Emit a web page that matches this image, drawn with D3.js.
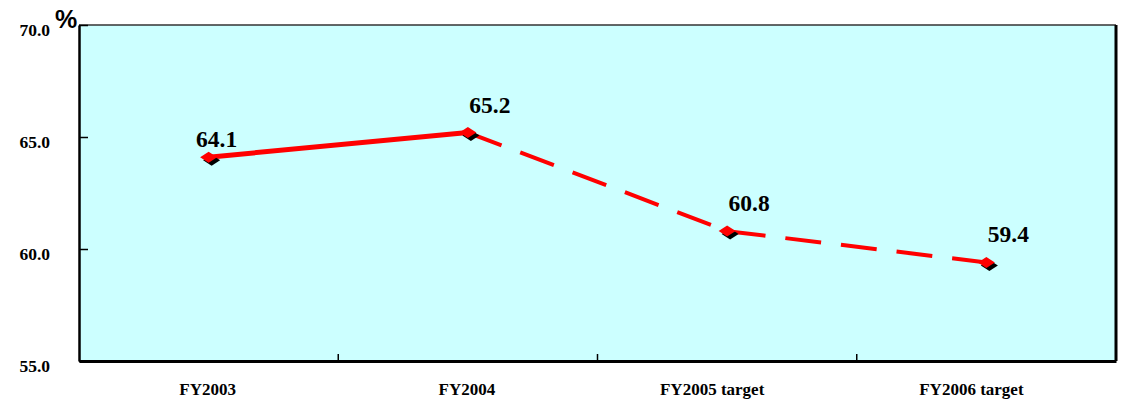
<!DOCTYPE html>
<html><head><meta charset="utf-8">
<script src="https://cdn.jsdelivr.net/npm/d3@7"></script>
<style>html,body{margin:0;padding:0;background:#fff;}svg{display:block;}</style>
</head><body>
<svg id="chart" width="1124" height="406"></svg>
<script>
const categories = ["FY2003", "FY2004", "FY2005 target", "FY2006 target"];
const values = [64.1, 65.2, 60.8, 59.4];
const yTicks = [55, 60, 65, 70];
const unitLabel = "%";

const svg = d3.select("#chart");
const m = {left: 79, top: 25, right: 1116, bottom: 361};
const x = d3.scaleBand().domain(categories).range([m.left, m.right]).padding(0);
const y = d3.scaleLinear().domain([55, 70]).range([m.bottom, m.top]);
const cx = d => x(d) + x.bandwidth() / 2;
const serif = "'Liberation Serif', 'Times New Roman', serif";

// plot background
svg.append("rect").attr("x", m.left).attr("y", m.top)
  .attr("width", m.right - m.left).attr("height", m.bottom - m.top)
  .attr("fill", "#ccffff");
// frame
svg.append("line").attr("x1", m.left).attr("x2", m.right).attr("y1", m.top).attr("y2", m.top)
  .attr("stroke", "#333").attr("stroke-width", 1.5);
svg.append("line").attr("x1", m.right).attr("x2", m.right).attr("y1", m.top).attr("y2", m.bottom)
  .attr("stroke", "#000").attr("stroke-width", 3);

// y axis
const yAxis = d3.axisLeft(y).tickValues(yTicks).tickFormat(d3.format(".1f")).tickSizeInner(-9).tickSizeOuter(0).tickPadding(29);
const gy = svg.append("g").attr("transform", `translate(${m.left},0)`).call(yAxis);
gy.select(".domain").attr("stroke", "#000").attr("stroke-width", 2.5);
gy.selectAll(".tick line").attr("stroke", "#000").attr("stroke-width", 1.5);
gy.selectAll(".tick text").attr("font-family", serif)
  .attr("font-weight", "bold").attr("font-size", 17.5).attr("fill", "#000").attr("dy", "0.6em");

// x axis
const xAxis = d3.axisBottom(x).tickSize(0).tickPadding(22);
const gx = svg.append("g").attr("transform", `translate(0,${m.bottom})`).call(xAxis);
gx.select(".domain").attr("stroke", "#000").attr("stroke-width", 3);
gx.selectAll(".tick text").attr("font-family", serif)
  .attr("font-weight", "bold").attr("font-size", 17).attr("fill", "#000")
  .attr("dx", (d, i) => i >= 2 ? -15 : -1);
// inward ticks at band boundaries
svg.append("g").selectAll("line").data(categories.slice(1)).join("line")
  .attr("x1", d => x(d)).attr("x2", d => x(d))
  .attr("y1", m.bottom).attr("y2", m.bottom - 7)
  .attr("stroke", "#000").attr("stroke-width", 1.5);

// unit label
svg.append("text").attr("x", 55).attr("y", 28).text(unitLabel)
  .attr("font-family", "'Liberation Sans', Arial, sans-serif").attr("font-weight", "bold")
  .attr("font-size", 25).attr("fill", "#000");

const pts = categories.map((c, i) => ({c, v: values[i]}));
const line = d3.line().x(d => cx(d.c)).y(d => y(d.v));
// solid actual segment
svg.append("path").attr("d", line(pts.slice(0, 2))).attr("fill", "none")
  .attr("stroke", "#ff0000").attr("stroke-width", 5).attr("stroke-linecap", "butt");
// dashed target segment
svg.append("path").attr("d", line(pts.slice(1))).attr("fill", "none")
  .attr("stroke", "#ff0000").attr("stroke-width", 4).attr("stroke-dasharray", "36,20");

// markers
const diamond = (px, py) => `M${px - 8.5},${py} L${px},${py - 5.5} L${px + 8.5},${py} L${px},${py + 5.5} Z`;
svg.append("g").selectAll("path").data(pts).join("path")
  .attr("d", d => diamond(cx(d.c) + 3, y(d.v) + 3)).attr("fill", "#000");
svg.append("g").selectAll("path").data(pts).join("path")
  .attr("d", d => diamond(cx(d.c), y(d.v))).attr("fill", "#ff0000");

// value labels
svg.append("g").selectAll("text").data(pts).join("text")
  .attr("x", (d, i) => cx(d.c) + (i === 0 ? 8 : 22))
  .attr("y", (d, i) => y(d.v) - (i === 0 ? 10 : 20))
  .attr("text-anchor", "middle")
  .attr("font-family", serif)
  .attr("font-weight", "bold").attr("font-size", 23.5).attr("fill", "#000")
  .text(d => d3.format(".1f")(d.v));
</script>
</body></html>
